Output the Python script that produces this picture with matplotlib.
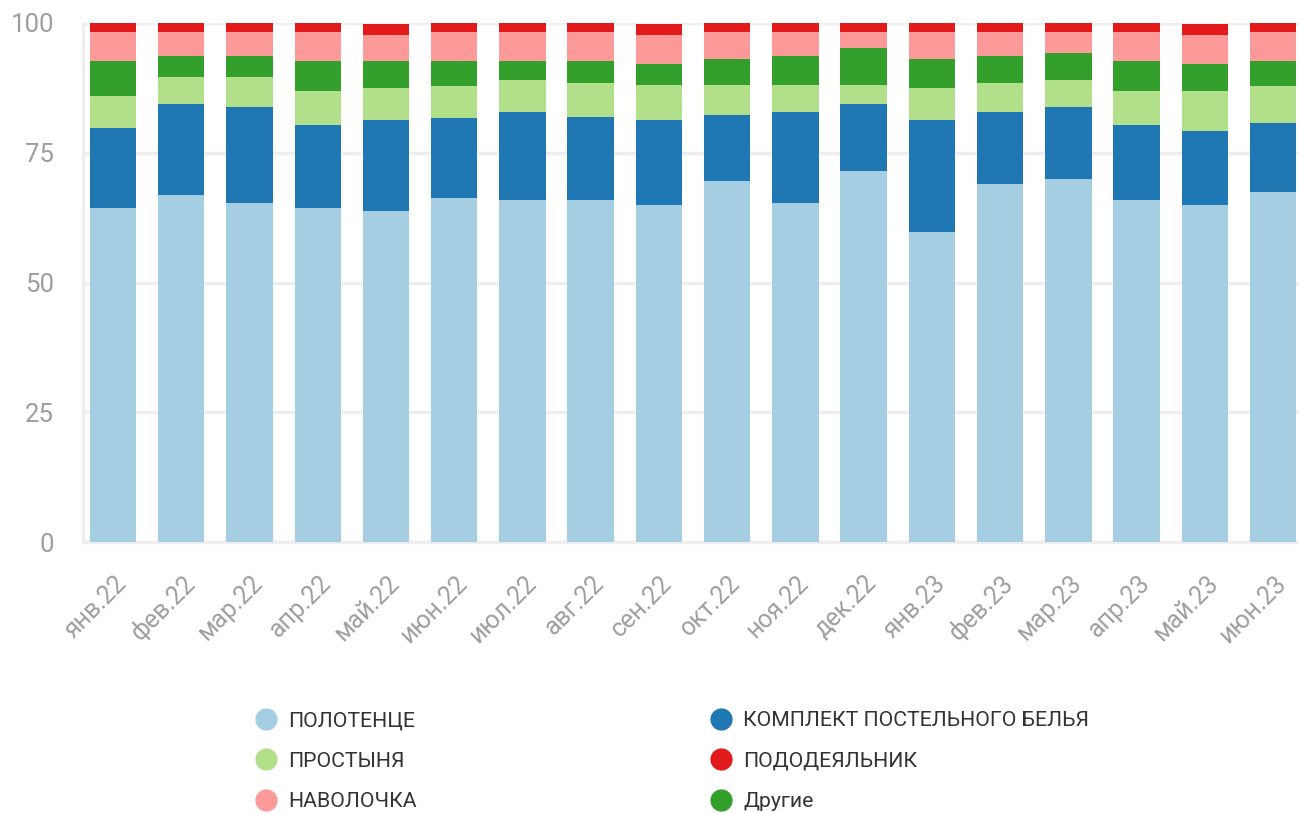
import matplotlib
matplotlib.use("Agg")
import matplotlib.pyplot as plt
import matplotlib.transforms as mtrans
from matplotlib.lines import Line2D
import numpy as np

plt.rcParams['font.family'] = ['Roboto', 'DejaVu Sans']

months = ["янв.22", "фев.22", "мар.22", "апр.22", "май.22", "июн.22", "июл.22", "авг.22", "сен.22",
          "окт.22", "ноя.22", "дек.22", "янв.23", "фев.23", "мар.23", "апр.23", "май.23", "июн.23"]

polotence = [64.4, 66.9, 65.3, 64.4, 63.8, 66.3, 65.9, 65.9, 64.9, 69.6, 65.3, 71.5, 59.7, 69.0, 69.9, 65.9, 64.9, 67.4]
komplekt = [15.4, 17.5, 18.5, 15.9, 17.5, 15.4, 17.0, 16.0, 16.4, 12.7, 17.6, 12.9, 21.6, 13.9, 13.9, 14.4, 14.3, 13.3]
prostynya = [6.1, 5.2, 5.8, 6.6, 6.2, 6.2, 6.1, 6.5, 6.8, 5.8, 5.2, 3.7, 6.2, 5.5, 5.2, 6.6, 7.7, 7.2]
drugie = [6.8, 4.0, 4.0, 5.8, 5.2, 4.8, 3.7, 4.3, 4.0, 5.0, 5.5, 7.1, 5.6, 5.2, 5.2, 5.8, 5.2, 4.8]
navolochka = [5.6, 4.7, 4.7, 5.6, 5.0, 5.6, 5.6, 5.6, 5.6, 5.2, 4.7, 3.1, 5.2, 4.7, 4.1, 5.6, 5.6, 5.6]
pododeyalnik = [1.7, 1.7, 1.7, 1.7, 2.1, 1.7, 1.7, 1.7, 2.1, 1.7, 1.7, 1.7, 1.7, 1.7, 1.7, 1.7, 2.1, 1.7]

series = [
    ("ПОЛОТЕНЦЕ", polotence, "#a6cee3"),
    ("КОМПЛЕКТ ПОСТЕЛЬНОГО БЕЛЬЯ", komplekt, "#1f78b4"),
    ("ПРОСТЫНЯ", prostynya, "#b2df8a"),
    ("Другие", drugie, "#33a02c"),
    ("НАВОЛОЧКА", navolochka, "#fb9a99"),
    ("ПОДОДЕЯЛЬНИК", pododeyalnik, "#e31a1c"),
]

W, H = 1299, 814
fig = plt.figure(figsize=(W / 100, H / 100), dpi=100)
ax = fig.add_axes([83 / W, 1 - 542 / H, (1299 - 83) / W, (542 - 23) / H])

x = np.arange(len(months))
bottom = np.zeros(len(months))
for name, vals, col in series:
    v = np.array(vals)
    ax.bar(x, v, bottom=bottom, width=0.68, color=col, label=name, zorder=3, linewidth=0)
    bottom += v

ax.set_ylim(0, 100)
ax.set_xlim(-0.44, 17.38)
ax.set_yticks([0, 25, 50, 75, 100])
ax.yaxis.grid(True, color="#eeeeee", linewidth=2.5, zorder=0)
for s in ["top", "right"]:
    ax.spines[s].set_visible(False)
ax.spines["left"].set_color("#eeeeee")
ax.spines["left"].set_linewidth(2)
ax.spines["bottom"].set_color("#eeeeee")
ax.spines["bottom"].set_linewidth(2.5)
ax.tick_params(axis="both", length=0, colors="#9e9e9e")
ax.tick_params(axis="y", pad=21, labelsize=18.5)
ax.set_xticks(x)
ax.set_xticklabels(months, rotation=45, ha="right", rotation_mode="anchor", fontsize=18, color="#9e9e9e")
ax.tick_params(axis="x", pad=21)
offset = mtrans.ScaledTranslation(1 / 100, 0, fig.dpi_scale_trans)
for lab in ax.get_xticklabels():
    lab.set_transform(lab.get_transform() + offset)

def handle(col):
    return Line2D([0], [0], marker="o", linestyle="none", markersize=15,
                  markerfacecolor=col, markeredgecolor=col)

left_items = [series[0], series[2], series[4]]
right_items = [series[1], series[5], series[3]]
for items, xpos in [(left_items, 253 / W), (right_items, 708 / W)]:
    leg = fig.legend([handle(c) for _, _, c in items], [n for n, _, _ in items],
                     loc="upper left", bbox_to_anchor=(xpos, 1 - 711 / H), frameon=False,
                     fontsize=15.3, labelspacing=1.02, handletextpad=0.45, handlelength=1.2,
                     borderaxespad=0, borderpad=0)
    for t in leg.get_texts():
        t.set_color("#333333")

fig.savefig("out.png", dpi=100)
